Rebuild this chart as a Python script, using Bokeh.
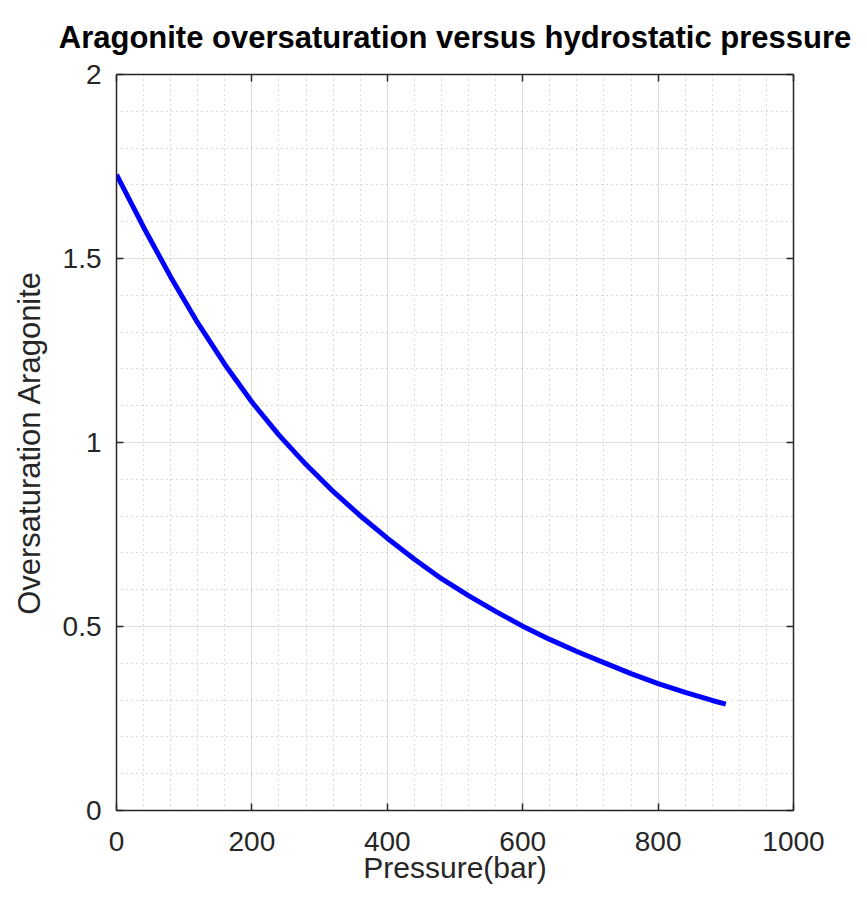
from bokeh.plotting import figure
from bokeh.models import (SingleIntervalTicker, LinearAxis, NumeralTickFormatter, Range1d, Grid)
from bokeh.embed import file_html
from bokeh.resources import INLINE

# data
pressure = [0, 40, 80, 120, 160, 200, 240, 280, 320, 360, 400, 440, 480, 520, 560, 600,
            640, 680, 720, 760, 800, 840, 880, 900]
oversat = [1.728, 1.585, 1.450, 1.325, 1.212, 1.110, 1.020, 0.940, 0.867, 0.801, 0.740, 0.683,
           0.630, 0.584, 0.541, 0.501, 0.465, 0.432, 0.402, 0.372, 0.345, 0.321, 0.299, 0.289]

title_text = "Aragonite oversaturation versus hydrostatic pressure"
x_label = "Pressure(bar)"
y_label = "Oversaturation Aragonite"

FONT = "Liberation Sans"
AX = "#262626"

p = figure(width=851, height=886, output_backend="svg", toolbar_location=None,
           x_range=Range1d(0, 1000), y_range=Range1d(0, 2),
           min_border_left=116, min_border_right=58, min_border_top=74, min_border_bottom=76,
           x_axis_type=None, y_axis_type=None)
p.outline_line_color = None
p.background_fill_color = "white"
p.border_fill_color = "white"

xt = SingleIntervalTicker(interval=200, num_minor_ticks=5)
yt = SingleIntervalTicker(interval=0.5, num_minor_ticks=5)

def style_axis(ax, labels=True):
    ax.axis_line_color = AX
    ax.axis_line_width = 1.5
    ax.major_tick_in = 7
    ax.major_tick_out = 0
    ax.major_tick_line_color = AX
    ax.major_tick_line_width = 1.5
    ax.minor_tick_line_color = None
    ax.major_label_text_font = FONT
    ax.major_label_text_font_size = "28px"
    ax.major_label_text_color = AX
    ax.axis_label_text_font = FONT
    ax.axis_label_text_font_size = "30px"
    ax.axis_label_text_font_style = "normal"
    ax.axis_label_text_color = AX
    if not labels:
        ax.major_label_text_font_size = "0px"
        ax.major_label_text_color = None
        ax.major_label_standoff = 0

p.add_layout(Grid(dimension=0, ticker=xt, grid_line_color="#dcdcdc", grid_line_width=1,
                  minor_grid_line_color="#b4b4b4", minor_grid_line_dash="1 4",
                  minor_grid_line_width=1))
p.add_layout(Grid(dimension=1, ticker=yt, grid_line_color="#dcdcdc", grid_line_width=1,
                  minor_grid_line_color="#b4b4b4", minor_grid_line_dash="1 4",
                  minor_grid_line_width=1))

xb = LinearAxis(ticker=xt, axis_label=x_label)
style_axis(xb)
xb.major_label_standoff = 17
xb.axis_label_standoff = -3
p.add_layout(xb, "below")

yl = LinearAxis(ticker=yt, axis_label=y_label, formatter=NumeralTickFormatter(format="0.[0]"))
style_axis(yl)
yl.axis_label_text_font_size = "31px"
yl.major_label_standoff = 11
yl.axis_label_standoff = 13
p.add_layout(yl, "left")

xa = LinearAxis(ticker=xt)
style_axis(xa, labels=False)
p.add_layout(xa, "above")

yr = LinearAxis(ticker=yt)
style_axis(yr, labels=False)
p.add_layout(yr, "right")

p.line(pressure, oversat, line_color="#0000ff", line_width=5, line_join="round", line_cap="butt")

p.title.text = title_text
p.title.text_font = FONT
p.title.text_font_size = "31px"
p.title.text_font_style = "bold"
p.title.text_color = "black"
p.title.align = "center"
p.title.standoff = 32

open("out.html", "w").write(file_html(p, INLINE))
